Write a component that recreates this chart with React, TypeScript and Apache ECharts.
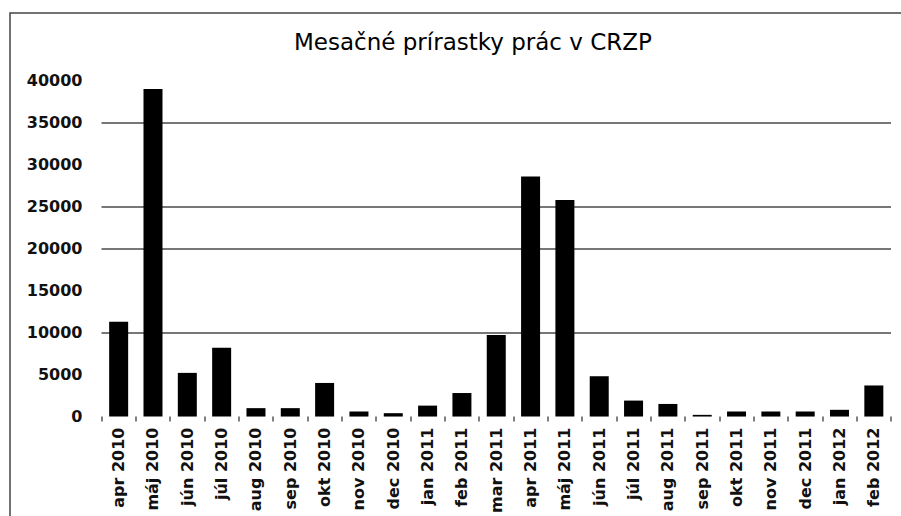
import React, { useEffect, useRef } from "react";
import * as echarts from "echarts";

const categories = [
  "apr 2010", "máj 2010", "jún 2010", "júl 2010", "aug 2010", "sep 2010",
  "okt 2010", "nov 2010", "dec 2010", "jan 2011", "feb 2011", "mar 2011",
  "apr 2011", "máj 2011", "jún 2011", "júl 2011", "aug 2011", "sep 2011",
  "okt 2011", "nov 2011", "dec 2011", "jan 2012", "feb 2012",
];
const values = [
  11300, 39000, 5200, 8200, 1000, 1000,
  4000, 600, 400, 1300, 2800, 9700,
  28600, 25800, 4800, 1900, 1500, 200,
  600, 600, 600, 800, 3700,
];
const visibleGridLines = [10000, 20000, 25000, 35000];
const title = "Mesačné prírastky prác v CRZP";

export default function App() {
  const ref = useRef<HTMLDivElement>(null);
  useEffect(() => {
    if (!ref.current) return;
    const chart = echarts.init(ref.current, undefined, { renderer: "svg" });
    chart.setOption({
      animation: false,
      backgroundColor: "#ffffff",
      textStyle: { fontFamily: "DejaVu Sans" },
      title: {
        text: title,
        left: 289,
        top: 25,
        textStyle: {
          fontFamily: "DejaVu Sans",
          fontSize: 23,
          fontWeight: "normal",
          color: "#000",
        },
      },
      graphic: [
        {
          type: "rect",
          shape: { x: 10, y: 13, width: 900, height: 600 },
          style: { fill: "none", stroke: "#444", lineWidth: 1.5 },
          silent: true,
        },
      ],
      grid: { left: 101.5, right: 10, top: 80.7, bottom: 99.3 },
      xAxis: {
        type: "category",
        data: categories,
        boundaryGap: true,
        axisLine: { show: false },
        splitLine: { show: false },
        axisTick: {
          show: true,
          length: 5,
          lineStyle: { color: "#555", width: 1.5 },
        },
        axisLabel: {
          rotate: 90,
          margin: 11,
          interval: 0,
          fontFamily: "DejaVu Sans",
          fontSize: 16,
          fontWeight: "bold",
          color: "#111",
        },
      },
      yAxis: {
        type: "value",
        min: 0,
        max: 40000,
        interval: 5000,
        axisLine: { show: false },
        axisTick: { show: false },
        axisLabel: {
          margin: 19,
          fontFamily: "DejaVu Sans",
          fontSize: 16,
          fontWeight: "bold",
          color: "#111",
          formatter: (v: number) => String(v),
        },
        splitLine: { show: false },
      },
      series: [
        {
          type: "bar",
          data: values,
          barWidth: 19,
          itemStyle: { color: "#000" },
          z: 3,
          markLine: {
            silent: true,
            symbol: "none",
            label: { show: false },
            lineStyle: { color: "#4a4a4a", width: 1.5, type: "solid" },
            data: visibleGridLines.map((v) => ({ yAxis: v })),
            z: 1,
          },
        },
      ],
    });
    return () => chart.dispose();
  }, []);
  return (
    <div
      ref={ref}
      style={{ position: "fixed", left: 0, top: 0, width: 901, height: 516 }}
    />
  );
}
